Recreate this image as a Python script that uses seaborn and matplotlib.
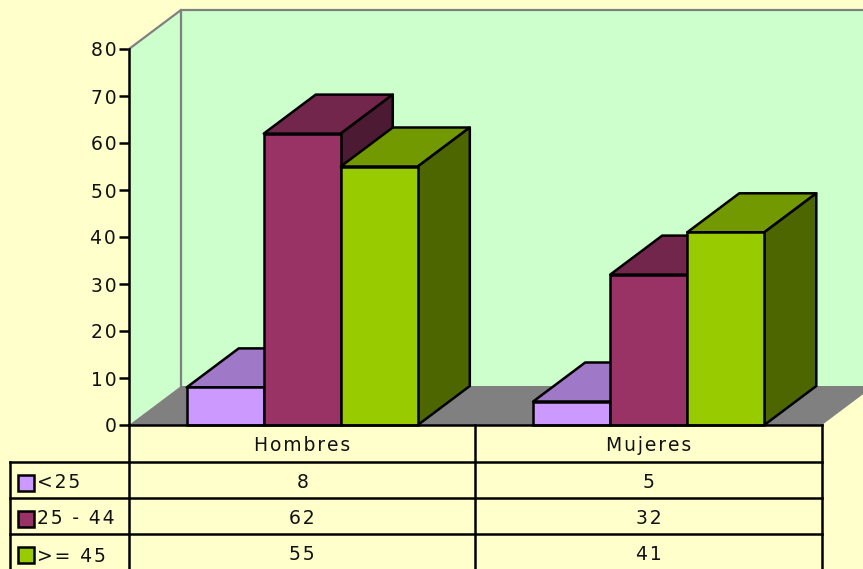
import matplotlib
matplotlib.use('Agg')
import matplotlib.pyplot as plt
import pandas as pd
import seaborn as sns
from matplotlib.patches import Polygon, Rectangle

# data
categories = ['Hombres', 'Mujeres']
series_names = ['<25', '25 - 44', '>= 45']
menor_25 = [8, 5]
de_25_44 = [62, 32]
mayor_45 = [55, 41]
y_ticks = [0, 10, 20, 30, 40, 50, 60, 70, 80]

colors = ['#CC99FF', '#993366', '#99CC00']
top_colors = ['#9F78C8', '#73264C', '#739900']
side_colors = ['#664C80', '#4D1A33', '#4D6600']
bg = '#FFFFCC'
wall = '#CCFFCC'
grey = '#808080'

W, H = 863, 569
X0, X1, Y0, Y80 = 129, 822, 425, 49
DX, DY = 52, 39  # depth of the 3d effect in pixels
LW = 1.8
FS = 13.5


# the original text is set wide, hair spaces between letters get close to it
def wide(s):
    return '\u200a'.join(s)


df = pd.DataFrame({
    'categoria': categories * 3,
    'edad': [s for s in series_names for _ in categories],
    'valor': menor_25 + de_25_44 + mayor_45,
})

sns.set_theme(style='white', rc={'axes.facecolor': 'none', 'figure.facecolor': bg})
plt.rcParams['font.family'] = ['DejaVu Sans']

fig = plt.figure(figsize=(W / 100, H / 100), dpi=100)
ax = fig.add_axes([X0 / W, 1 - Y0 / H, (X1 - X0) / W, (Y0 - Y80) / H])

sns.barplot(data=df, x='categoria', y='valor', hue='edad', order=categories,
            hue_order=series_names, palette=colors, width=0.667, saturation=1,
            edgecolor='black', linewidth=LW, legend=False, ax=ax, zorder=5)
ax.set_xlim(-0.5, 1.5)
ax.set_ylim(0, 80)
ax.set_xlabel('')
ax.set_ylabel('')
bars = sorted(ax.patches, key=lambda b: b.get_x())


# pixel -> data helpers, for the wall, floor and table
def px(x):
    return (x - X0) / (X1 - X0) * 2 - 0.5


def py(y):
    return (Y0 - y) / (Y0 - Y80) * 80


ddx = DX / (X1 - X0) * 2
ddy = DY / (Y0 - Y80) * 80


def poly(pts, **kw):
    ax.add_patch(Polygon(pts, closed=True, clip_on=False, **kw))


def line(x, y, color='black', lw=LW, z=10):
    ax.plot(x, y, color=color, lw=lw, clip_on=False, zorder=z, solid_capstyle='projecting')


# back wall, side wall, floor
x_end = px(X1) + ddx
poly([(px(X0), 0), (px(X0) + ddx, ddy), (x_end, ddy), (x_end, 80 + ddy),
      (px(X0) + ddx, 80 + ddy), (px(X0), 80)], facecolor=wall, edgecolor='none', zorder=1)
poly([(px(X0), 0), (px(X1), 0), (x_end, ddy), (px(X0) + ddx, ddy)],
     facecolor=grey, edgecolor='none', zorder=2)
line([px(X0), px(X0) + ddx, px(X0) + ddx], [80, 80 + ddy, ddy], color=grey, lw=1.6, z=3)
line([px(X0) + ddx, x_end], [80 + ddy, 80 + ddy], color=grey, lw=1.6, z=3)

# 3d faces of each bar, taken from the bars seaborn drew
for i, bar in enumerate(bars):
    l = bar.get_x()
    r = l + bar.get_width()
    t = bar.get_height()
    k = i % 3
    z = 5 + i * 0.1
    poly([(l, t), (r, t), (r + ddx, t + ddy), (l + ddx, t + ddy)], facecolor=top_colors[k],
         edgecolor='black', lw=LW, joinstyle='round', zorder=z)
    poly([(r, 0), (r, t), (r + ddx, t + ddy), (r + ddx, ddy)], facecolor=side_colors[k],
         edgecolor='black', lw=LW, joinstyle='round', zorder=z)
    bar.set_zorder(z + 0.05)
    bar.set_clip_on(False)

# axis
for s in ['top', 'right', 'bottom']:
    ax.spines[s].set_visible(False)
ax.spines['left'].set_linewidth(LW)
ax.spines['left'].set_color('black')
ax.spines['left'].set_zorder(12)
ax.set_yticks(y_ticks)
ax.set_yticklabels([wide(str(v)) for v in y_ticks])
ax.tick_params(axis='y', left=True, length=7.2, width=LW, color='black', pad=2,
               labelsize=FS, labelcolor='#111111')
ax.set_xticks([0, 1])
ax.set_xticklabels([wide(c) for c in categories])
ax.tick_params(axis='x', bottom=False, length=0, pad=8, labelsize=FS, labelcolor='#111111')

# data table
rows = [462, 498, 534]
line([px(X0), px(X1)], [0, 0], z=11)
for y in rows:
    line([px(10), px(X1)], [py(y)] * 2)
line([px(10), px(10)], [py(rows[0]), py(571)])
line([px(X0), px(X0)], [0, py(571)])
line([px(475), px(475)], [0, py(571)])
line([px(X1), px(X1)], [0, py(571)])

values = [menor_25, de_25_44, mayor_45]
row_y = [482, 518, 555]
label_y = [483, 519, 556]
for k, name in enumerate(series_names):
    ax.add_patch(Rectangle((px(18), py(491 + 36 * k)), px(34) - px(18), py(475) - py(491),
                           facecolor=colors[k], edgecolor='black', lw=LW, clip_on=False, zorder=10))
    ax.text(px(37), py(label_y[k]), wide(name), ha='left', va='center', fontsize=FS,
            color='#111111', clip_on=False)
    for j in range(len(categories)):
        ax.text(j, py(row_y[k]), wide(str(values[k][j])), ha='center', va='center', fontsize=FS,
                color='#111111', clip_on=False)

fig.savefig('out.png', dpi=100, facecolor=bg)
